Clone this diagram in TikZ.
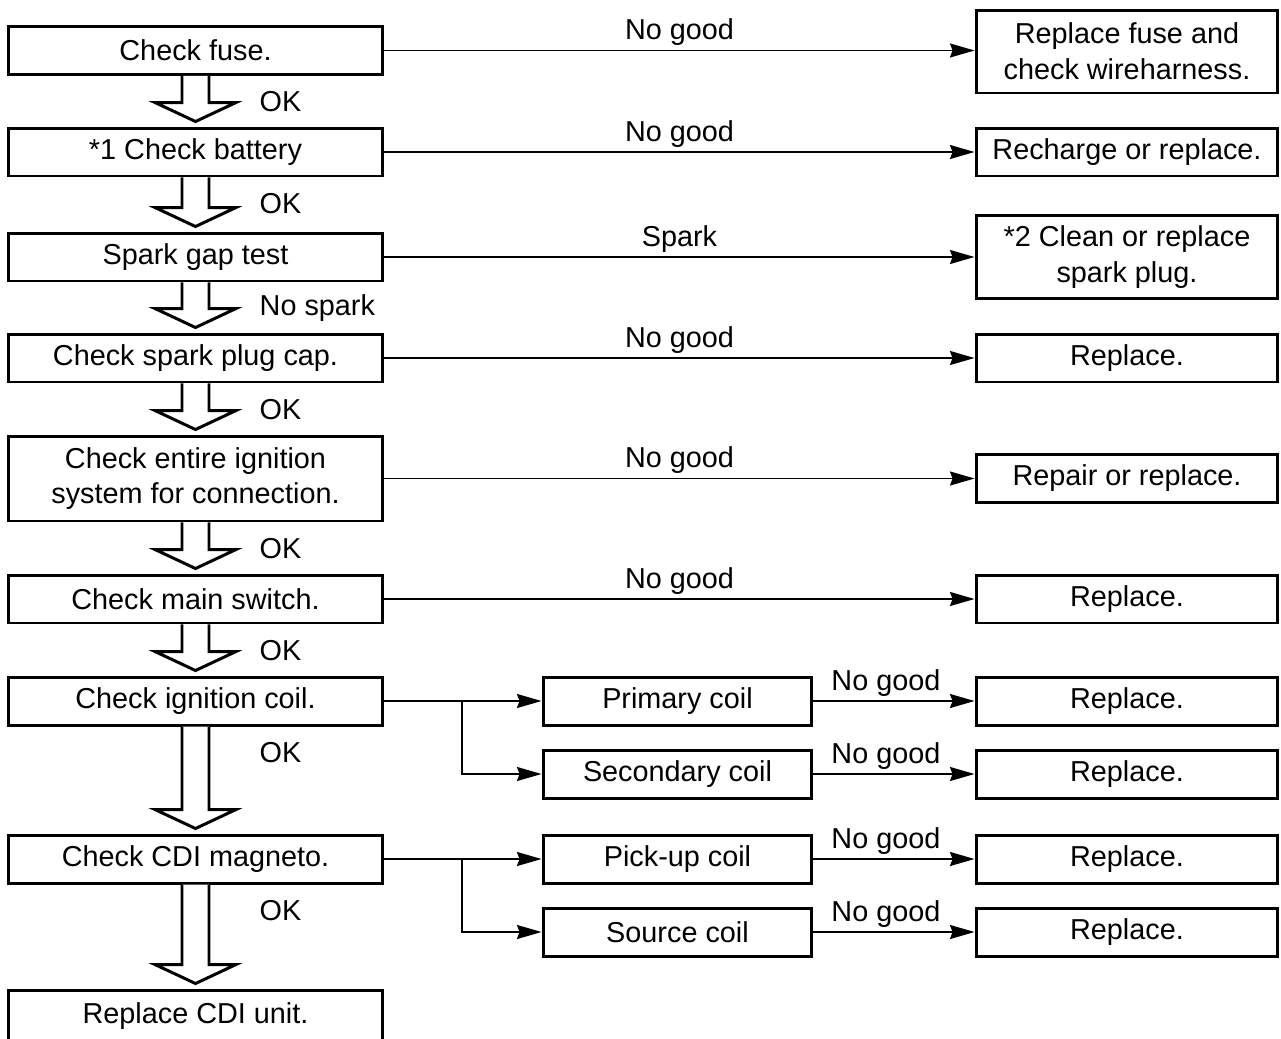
\documentclass[tikz,border=0pt]{standalone}
\usepackage{fontspec}
\setmainfont{Liberation Sans}
\usepackage{tikz}
\usetikzlibrary{positioning,calc,arrows.meta}

% hollow block arrow from one step box down to the next, with its label
\newcommand{\okarrow}[3]{%
  \draw[hollow] ($(#1.south)+(-13.5,0)$) -- ($(#2.north)+(-13.5,-24)$) -- ++(-27,0)
    -- ($(#2.north)+(0,-5)$) -- ($(#2.north)+(40.5,-24)$) -- ++(-27,0)
    -- ($(#1.south)+(13.5,0)$);
  \node[anchor=west] (#1ok) at ($(#1.south)+(58,26)$) {#3};}

\begin{document}
\begin{tikzpicture}[x=0.02cm, y=-0.02cm,
    font=\fontsize{16.4}{20.4}\selectfont,
    stepbox/.style={draw, rectangle, line width=1.7pt, minimum width=7.5cm, minimum height=0.96cm, align=center, inner sep=0pt},
    fixbox/.style={draw, rectangle, line width=1.7pt, minimum width=6.04cm, minimum height=0.96cm, align=center, inner sep=0pt},
    coilbox/.style={draw, rectangle, line width=1.7pt, minimum width=5.38cm, minimum height=0.96cm, align=center, inner sep=0pt},
    flow/.style={-{Stealth[length=14pt, width=8pt, inset=1.5pt]}, line width=0.85pt},
    hollow/.style={draw, line width=1.7pt, line join=miter, fill=white},
    tag/.style={above=-1pt}]

    \useasboundingbox (0,0) rectangle (1281,1038);

    % Check steps
    \node[stepbox] (fuse) at (195.5,50.5) {Check fuse.};
    \node[stepbox] (battery) at (195.5,152) {*1 Check battery};
    \node[stepbox] (gap) at (195.5,257) {Spark gap test};
    \node[stepbox] (cap) at (195.5,358) {Check spark plug cap.};
    \node[stepbox, minimum height=1.7cm] (system) at (195.5,478.5) {Check entire ignition\\system for connection.};
    \node[stepbox] (switch) at (195.5,599) {Check main switch.};
    \node[stepbox] (igncoil) at (195.5,701) {Check ignition coil.};
    \node[stepbox] (magneto) at (195.5,859) {Check CDI magneto.};
    \node[stepbox, minimum height=1.04cm] (cdiunit) at (195.5,1016) {Replace CDI unit.};

    % Remedies
    \node[fixbox, minimum height=1.66cm] (fixfuse) at (1127,51.5) {Replace fuse and\\check wireharness.};
    \node[fixbox] (fixbattery) at (1127,152) {Recharge or replace.};
    \node[fixbox, minimum height=1.66cm] (fixplug) at (1127,257) {*2 Clean or replace\\spark plug.};
    \node[fixbox] (fixcap) at (1127,358) {Replace.};
    \node[fixbox] (fixsystem) at (1127,478.5) {Repair or replace.};
    \node[fixbox] (fixswitch) at (1127,599) {Replace.};
    \node[fixbox] (fixprimary) at (1127,701) {Replace.};
    \node[fixbox] (fixsecondary) at (1127,774) {Replace.};
    \node[fixbox] (fixpickup) at (1127,859) {Replace.};
    \node[fixbox] (fixsource) at (1127,932) {Replace.};

    % Coils
    \node[coilbox] (primary) at (677.5,701) {Primary coil};
    \node[coilbox] (secondary) at (677.5,774) {Secondary coil};
    \node[coilbox] (pickup) at (677.5,859) {Pick-up coil};
    \node[coilbox] (source) at (677.5,932) {Source coil};

    % Down arrows
    \okarrow{fuse}{battery}{OK}
    \okarrow{battery}{gap}{OK}
    \okarrow{gap}{cap}{No spark}
    \okarrow{cap}{system}{OK}
    \okarrow{system}{switch}{OK}
    \okarrow{switch}{igncoil}{OK}
    \okarrow{igncoil}{magneto}{OK}
    \okarrow{magneto}{cdiunit}{OK}

    % Arcs
    \draw[flow] (fuse.east) -- node[tag] {No good} (fuse.east -| fixfuse.west);
    \draw[flow] (battery.east) -- node[tag] {No good} (fixbattery.west);
    \draw[flow] (gap.east) -- node[tag] {Spark} (gap.east -| fixplug.west);
    \draw[flow] (cap.east) -- node[tag] {No good} (fixcap.west);
    \draw[flow] (system.east) -- node[tag] {No good} (fixsystem.west);
    \draw[flow] (switch.east) -- node[tag] {No good} (fixswitch.west);

    \coordinate (split1) at ($(igncoil.east)!0.494!(primary.west)$);
    \draw[flow] (igncoil.east) -- (primary.west);
    \draw[flow] (split1) |- (secondary.west);
    \coordinate (split2) at ($(magneto.east)!0.494!(pickup.west)$);
    \draw[flow] (magneto.east) -- (pickup.west);
    \draw[flow] (split2) |- (source.west);

    \draw[flow] (primary.east) -- node[tag, pos=0.45] {No good} (fixprimary.west);
    \draw[flow] (secondary.east) -- node[tag, pos=0.45] {No good} (fixsecondary.west);
    \draw[flow] (pickup.east) -- node[tag, pos=0.45] {No good} (fixpickup.west);
    \draw[flow] (source.east) -- node[tag, pos=0.45] {No good} (fixsource.west);
\end{tikzpicture}
\end{document}
